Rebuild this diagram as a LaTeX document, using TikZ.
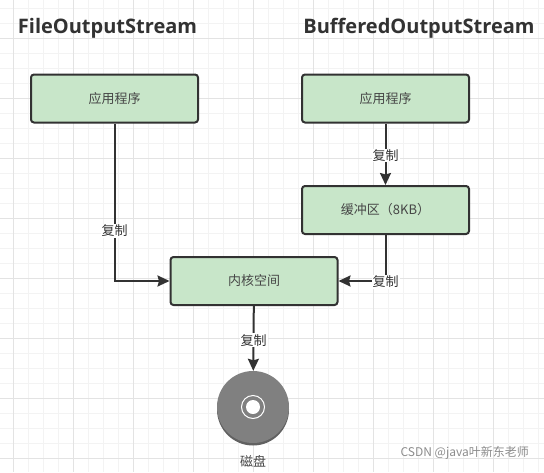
\documentclass[tikz,border=0pt]{standalone}
\usepackage{fontspec}
\setmainfont{Open Sans}
\newfontfamily\cjk{Noto Sans CJK SC}
\usetikzlibrary{arrows.meta,positioning}

\definecolor{boxfill}{HTML}{C8E6C9}
\definecolor{ink}{HTML}{323232}
\definecolor{gridminor}{HTML}{F3F3F3}
\definecolor{gridmajor}{HTML}{E3E3E3}

\tikzset{
  block/.style={draw=ink,line width=2pt,fill=boxfill,rounded corners=3pt,
                minimum width=167pt,minimum height=48pt,inner sep=0pt,
                text=ink!90,font=\cjk\fontsize{13}{15}\selectfont},
  title/.style={text=ink,font=\bfseries\fontsize{20}{24}\selectfont,inner sep=0pt},
  flow/.style={-{Stealth[length=12pt,width=11pt,inset=1.5pt]},draw=ink,line width=2pt},
  copylabel/.style={fill=white,inner sep=1pt,text=ink,font=\cjk\fontsize{13}{15}\selectfont},
}

\begin{document}
\begin{tikzpicture}[x=1pt,y=-1pt]
  \useasboundingbox (0,0) rectangle (544,472);
  \fill[white] (0,0) rectangle (544,472);

  % background grid
  \foreach \gx in {13,28,...,538}
    \draw[gridminor,line width=1pt] (\gx,0) -- (\gx,472);
  \foreach \gy in {8,23,...,472}
    \draw[gridminor,line width=1pt] (0,\gy) -- (544,\gy);
  \foreach \gx in {13,73,...,538}
    \draw[gridmajor,line width=1pt] (\gx,0) -- (\gx,472);
  \foreach \gy in {38,98,...,472}
    \draw[gridmajor,line width=1pt] (0,\gy) -- (544,\gy);

  \node[title] (leftTitle)  at (107.5,28) {FileOutputStream};
  \node[title] (rightTitle) at (419,28)   {BufferedOutputStream};

  \node[block] (app1)   at (114.5,98.5) {应用程序};
  \node[block] (app2)   at (385.5,98.5) {应用程序};
  \node[block] (buffer) at (385.5,210)  {缓冲区（8KB）};
  \node[block] (kernel) at (254,281)    {内核空间};

  % disk
  \fill[black!62] (253,409.5) circle (36pt);
  \node[circle,fill=black!50,minimum size=72pt,inner sep=0pt] (disk) at (253,407) {};
  \node[circle,draw=white,line width=1pt,minimum size=23pt,inner sep=0pt] (ring) at (disk.center) {};
  \node[circle,fill=white,minimum size=14pt,inner sep=0pt] (hole) at (disk.center) {};
  \node[text=ink!90,font=\cjk\fontsize{13}{15}\selectfont] (diskLabel) at (253,461) {磁盘};

  \draw[flow] (app1) |- node[copylabel,pos=0.34] (copy1) {复制} (kernel);
  \draw[flow] (app2) -- node[copylabel,pos=0.52] (copy2) {复制} (buffer);
  \draw[flow] (buffer) |- node[copylabel,pos=0.5,yshift=-1pt] (copy3) {复制} (kernel);
  \draw[flow] (kernel) -- node[copylabel,pos=0.53] (copy4) {复制} (disk);

  \node[text=black!45,font=\cjk\fontsize{12}{14}\selectfont,inner sep=0pt,anchor=east] (mark) at (529,453) {CSDN @java叶新东老师};
\end{tikzpicture}
\end{document}
